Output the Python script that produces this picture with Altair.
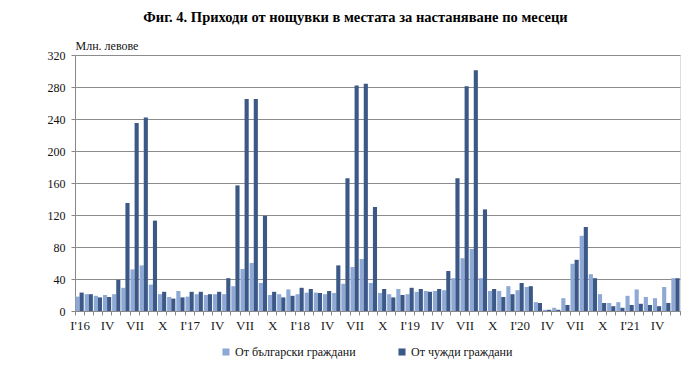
import json
import altair as alt
import pandas as pd

# Monthly data, Jan 2016 - Jun 2021 (million BGN)
bulgarian = [
    18, 21, 19, 20, 21, 29, 52, 57, 33, 21, 17.5, 25,
    18, 21, 20, 21, 21, 31, 52.5, 60, 35, 20, 21, 27,
    21, 23, 23, 21, 22.5, 34, 55, 65, 35, 22.5, 21, 27.5,
    21, 24, 25, 25, 26, 41, 66, 77.5, 41, 25, 25, 31,
    26, 30, 11, 1.5, 4, 16, 59, 94, 46, 21, 10, 11,
    19, 27, 17.5, 16, 30, 41,
]
foreign = [
    23, 21, 17, 17.5, 39, 135, 235, 242, 113, 24, 15.5, 17,
    24, 24, 21, 24, 41, 157, 265, 265, 119, 24, 17, 19,
    29, 27.5, 22.5, 25, 57, 166, 282, 284, 130, 27.5, 17, 20,
    29, 27.5, 24, 27.5, 50, 166, 281, 301, 127, 27.5, 17.5, 21,
    35, 31, 10, 1.5, 1.5, 7.5, 64, 105, 41, 10, 6, 4,
    7.5, 9, 7.5, 6, 10, 41,
]
years = ["16", "17", "18", "19", "20", "21"]
roman = {0: None, 3: "IV", 6: "VII", 9: "X"}
series_names = ["От български граждани", "От чужди граждани"]
series_colors = ["#8EA9D5", "#3B5887"]

tick_labels = []
for m in range(len(bulgarian)):
    k = m % 12
    if k == 0:
        tick_labels.append("I'" + years[m // 12])
    elif k in roman:
        tick_labels.append(roman[k])
    else:
        tick_labels.append("")

rows = []
for m in range(len(bulgarian)):
    rows.append({"m": m, "series": series_names[0], "value": bulgarian[m]})
    rows.append({"m": m, "series": series_names[1], "value": foreign[m]})
df = pd.DataFrame(rows)

label_expr = json.dumps(tick_labels) + "[datum.value]"

serif = "Liberation Serif"

chart = alt.Chart(df).mark_bar().encode(
    x=alt.X(
        "m:O",
        scale=alt.Scale(paddingInner=0.1, paddingOuter=0.05),
        axis=alt.Axis(
            title=None,
            labelExpr=label_expr,
            labelOverlap=False,
            labelAngle=0,
            labelFont=serif,
            labelFontSize=13,
            labelColor="#1a1a1a",
            labelPadding=4,
            tickBand="extent",
            tickSize=4,
            tickColor="#888888",
            domainColor="#888888",
            grid=False,
        ),
    ),
    xOffset=alt.XOffset("series:N", sort=series_names),
    y=alt.Y(
        "value:Q",
        scale=alt.Scale(domain=[0, 320], nice=False),
        axis=alt.Axis(
            title="Млн. левове",
            titleAngle=0,
            titleAlign="left",
            titleBaseline="alphabetic",
            titleX=0,
            titleY=-6,
            titleFont=serif,
            titleFontSize=12,
            titleFontWeight="normal",
            titleColor="#111111",
            values=list(range(0, 321, 40)),
            labelFont=serif,
            labelFontSize=12,
            labelColor="#111111",
            labelPadding=6,
            tickSize=4,
            tickColor="#888888",
            domainColor="#888888",
            gridColor="#8c8c8c",
            gridWidth=1,
        ),
    ),
    color=alt.Color(
        "series:N",
        scale=alt.Scale(domain=series_names, range=series_colors),
        legend=alt.Legend(
            title=None,
            orient="none",
            direction="horizontal",
            legendX=145,
            legendY=291,
            symbolType="square",
            symbolSize=50,
            symbolStrokeWidth=0,
            labelFont=serif,
            labelFontSize=12,
            labelColor="#111111",
            columnPadding=40,
            labelOffset=3,
        ),
    ),
).properties(
    width=605,
    height=256,
    title=alt.TitleParams(
        "Фиг. 4. Приходи от нощувки в местата за настаняване по месеци",
        font=serif,
        fontSize=14.5,
        fontWeight="bold",
        color="#000000",
        anchor="middle",
        dx=-22,
        offset=14,
    ),
    autosize=alt.AutoSizeParams(type="none"),
    padding={"left": 67, "top": 47, "right": 9, "bottom": 62},
).configure_view(stroke=None).configure(background="white")

chart.save("out.html", embed_options={"renderer": "svg", "actions": False})
